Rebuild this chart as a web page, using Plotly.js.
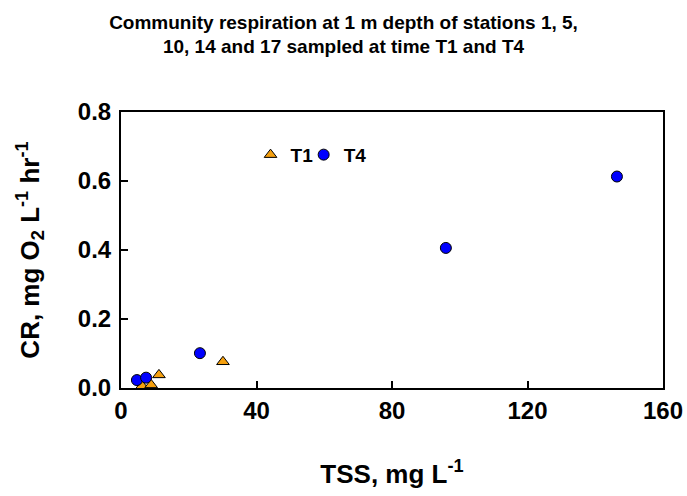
<!DOCTYPE html>
<html>
<head>
<meta charset="utf-8">
<script src="https://cdn.plot.ly/plotly-3.0.1.min.js"></script>
<style>html,body{margin:0;padding:0;background:#fff;}#chart{width:687px;height:496px;}</style>
</head>
<body>
<div id="chart"></div>
<script>
// TSS (mg L-1) and community respiration (mg O2 L-1 hr-1)
const t1TSS = [6.2, 8.9, 11.2, 30.1];
const t1CR  = [0.006, 0.009, 0.038, 0.076];
const t4TSS = [4.7, 7.4, 23.3, 95.9, 146.4];
const t4CR  = [0.023, 0.030, 0.101, 0.406, 0.613];
const seriesNames = ["T1", "T4"];
const xTicks = [0, 40, 80, 120, 160];
const yTicks = [0.0, 0.2, 0.4, 0.6, 0.8];

const font = "Liberation Sans, Arial, sans-serif";
const legFont = {size: 19, family: font, color: "#000", weight: "bold"};

const traces = [
  {x: t1TSS, y: t1CR, name: seriesNames[0], type: "scatter", mode: "markers", legend: "legend",
   marker: {symbol: "triangle-up", size: 11, color: "#F5A00F", line: {color: "#000", width: 1}}},
  {x: t4TSS, y: t4CR, name: seriesNames[1], type: "scatter", mode: "markers", legend: "legend2",
   marker: {symbol: "circle", size: 11, color: "#0000FF", line: {color: "#000", width: 1}}}
];

const layout = {
  width: 687, height: 496,
  margin: {l: 121, r: 24, t: 112, b: 108},
  paper_bgcolor: "#fff", plot_bgcolor: "#fff",
  font: {family: font, color: "#000"},
  title: {text: "<b>Community respiration at 1 m depth of stations 1, 5,<br>10, 14 and 17 sampled at time T1 and T4</b>",
          font: {size: 19, family: font, color: "#000"}, x: 0.5, xanchor: "center", yref: "container", y: 0.942, yanchor: "top"},
  showlegend: true,
  legend: {orientation: "h", x: 0.239, y: 0.845, xanchor: "left", yanchor: "middle",
           font: legFont, bgcolor: "rgba(0,0,0,0)", itemwidth: 30},
  legend2: {orientation: "h", x: 0.337, y: 0.845, xanchor: "left", yanchor: "middle",
           font: legFont, bgcolor: "rgba(0,0,0,0)", itemwidth: 30},
  xaxis: {range: [0, 160], tickvals: xTicks, ticktext: xTicks.map(String),
          showgrid: false, zeroline: false, showline: true, mirror: true, linecolor: "#000", linewidth: 2,
          ticks: "inside", ticklen: 7, tickwidth: 2, tickcolor: "#000",
          tickfont: {size: 24, family: font, color: "#000", weight: "bold"},
          title: {text: "<b>TSS, mg L<sup>-1</sup></b>", font: {size: 26, family: font, color: "#000"}, standoff: 42}},
  yaxis: {range: [0, 0.8], tickvals: yTicks, ticktext: yTicks.map(v => v.toFixed(1)),
          showgrid: false, zeroline: false, showline: true, mirror: true, linecolor: "#000", linewidth: 2,
          ticks: "inside", ticklen: 7, tickwidth: 2, tickcolor: "#000", ticklabelstandoff: 3,
          tickfont: {size: 24, family: font, color: "#000", weight: "bold"},
          title: {text: "<b>CR, mg O<sub>2</sub> L<sup>-1</sup> hr<sup>-1</sup></b>", font: {size: 26, family: font, color: "#000"}, standoff: 31}}
};

Plotly.newPlot("chart", traces, layout, {displayModeBar: false, staticPlot: true});
</script>
</body>
</html>
